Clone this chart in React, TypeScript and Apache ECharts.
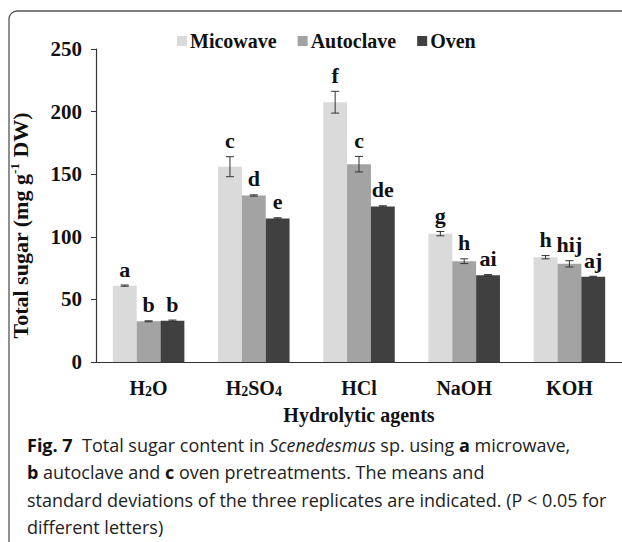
import React, { useEffect, useRef } from "react";
import * as echarts from "echarts";

const categories = ["H2O", "H2SO4", "HCl", "NaOH", "KOH"];
const seriesNames = ["Micowave", "Autoclave", "Oven"];
const microwave = [61, 156, 207.5, 102.5, 83.7];
const autoclave = [32.5, 133, 158, 80.5, 78.4];
const oven = [33, 114.7, 124.3, 69.3, 68];
const microwaveSd = [0.5, 8, 8.7, 1.7, 1.3];
const autoclaveSd = [0.4, 0.5, 6.2, 1.9, 2.5];
const ovenSd = [0.5, 0.5, 0.5, 0.5, 0.5];
const microwaveLetters = ["a", "c", "f", "g", "h"];
const autoclaveLetters = ["b", "d", "c", "h", "hij"];
const ovenLetters = ["b", "e", "de", "ai", "aj"];
const yMin = 0;
const yMax = 250;
const yInterval = 50;
const yName = "Total sugar (mg g";
const yNameSup = "-1";
const yNameEnd = " DW)";
const xName = "Hydrolytic agents";
const captionLines = [
  "{b|Fig. 7}  Total sugar content in {i|Scenedesmus} sp. using {b|a} microwave,",
  "{b|b} autoclave and {b|c} oven pretreatments. The means and",
  "standard deviations of the three replicates are indicated. (P < 0.05 for",
  "different letters)",
];

const colors = ["#dadada", "#a3a3a3", "#404040"];
const SERIF = '"Liberation Serif", "Times New Roman", serif';
const SANS = '"Open Sans", "Noto Sans", sans-serif';

const values = [microwave, autoclave, oven];
const sds = [microwaveSd, autoclaveSd, ovenSd];
const letters = [microwaveLetters, autoclaveLetters, ovenLetters];

function richCat(s: string) {
  return s.replace(/([A-Za-z]+)|(\d+)/g, (m, a, d) => (a ? `{b|${a}}` : `{s|${d}}`));
}

export default function App() {
  const ref = useRef<HTMLDivElement>(null);
  useEffect(() => {
    if (!ref.current) return;
    const chart = echarts.init(ref.current, null, { renderer: "svg" });
    const barSeries = seriesNames.map((name, k) => ({
      name,
      type: "bar",
      data: values[k],
      itemStyle: { color: colors[k] },
      barGap: "0%",
      barCategoryGap: "32%",
    }));
    const errSeries = seriesNames.map((name, k) => ({
      name: "err" + k,
      type: "custom",
      z: 5,
      clip: false,
      data: values[k].map((v, i) => [i, v, sds[k][i]]),
      renderItem: (params: any, api: any) => {
        const ci = api.value(0);
        const v = api.value(1);
        const sd = api.value(2);
        const c = api.coord([ci, v]);
        const catW = api.size([1, 0])[0];
        const bw = (catW * 0.68) / 3;
        const x = c[0] + (k - 1) * bw;
        const yTop = api.coord([ci, v + sd])[1];
        const yBot = api.coord([ci, v - sd])[1];
        const cap = 4;
        const st = { stroke: "#333", lineWidth: 1 };
        return {
          type: "group",
          children: [
            { type: "line", shape: { x1: x, y1: yTop, x2: x, y2: yBot }, style: st },
            { type: "line", shape: { x1: x - cap, y1: yTop, x2: x + cap, y2: yTop }, style: st },
            { type: "line", shape: { x1: x - cap, y1: yBot, x2: x + cap, y2: yBot }, style: st },
            {
              type: "text",
              x,
              y: yTop - 5,
              style: {
                text: letters[k][params.dataIndex],
                fill: "#111",
                fontFamily: SERIF,
                fontWeight: "bold",
                fontSize: 22,
                align: "center",
                verticalAlign: "bottom",
              },
            },
          ],
        };
      },
    }));

    const option: any = {
      animation: false,
      backgroundColor: "#ffffff",
      legend: {
        data: seriesNames,
        left: 172,
        top: 26,
        icon: "rect",
        itemWidth: 10,
        itemHeight: 10,
        itemGap: 21,
        textStyle: { fontFamily: SERIF, fontWeight: "bold", fontSize: 20, color: "#111", padding: [0, 0, 0, -2] },
      },
      grid: { left: 87, right: -5, top: 49, bottom: 542 - 362 },
      xAxis: {
        type: "category",
        data: categories,
        name: xName,
        nameLocation: "middle",
        nameGap: 43,
        nameTextStyle: { fontFamily: SERIF, fontWeight: "bold", fontSize: 20, color: "#111" },
        axisLine: { lineStyle: { color: "#333", width: 1.2 } },
        axisTick: { show: false },
        axisLabel: {
          interval: 0,
          margin: 16,
          formatter: (v: string) => richCat(v),
          rich: {
            b: { fontFamily: SERIF, fontWeight: "bold", fontSize: 20, color: "#111", lineHeight: 20, verticalAlign: "bottom" },
            s: { fontFamily: SERIF, fontWeight: "bold", fontSize: 14, color: "#111", lineHeight: 14, verticalAlign: "bottom" },
          },
        },
      },
      yAxis: {
        type: "value",
        min: yMin,
        max: yMax,
        interval: yInterval,
        name: `{a|${yName}}{s|${yNameSup}}{a|${yNameEnd}}`,
        nameLocation: "middle",
        nameGap: 64,
        nameTextStyle: {
          padding: [0, 40, 0, 0],
          rich: {
            a: { fontFamily: SERIF, fontWeight: "bold", fontSize: 22, color: "#111", lineHeight: 24 },
            s: { fontFamily: SERIF, fontWeight: "bold", fontSize: 13, color: "#111", lineHeight: 13, verticalAlign: "top" },
          },
        },
        splitLine: { show: false },
        axisLine: { show: true, lineStyle: { color: "#333", width: 1.2 } },
        axisTick: { show: true, length: 5, lineStyle: { color: "#333" } },
        axisLabel: { margin: 14, fontFamily: SERIF, fontWeight: "bold", fontSize: 21, color: "#111" },
      },
      graphic: [
        {
          type: "rect",
          z: -1,
          shape: { x: 9, y: 11, width: 800, height: 800, r: 8 },
          style: { fill: "none", stroke: "#555", lineWidth: 1.3 },
          silent: true,
        },
        ...captionLines.map((t, i) => ({
          type: "text",
          x: 27,
          y: 445 + i * 27.4,
          style: {
            text: t,
            fill: "#222",
            fontFamily: SANS,
            fontSize: 18,
            verticalAlign: "middle",
            rich: {
              b: { fontFamily: SANS, fontSize: 18, fontWeight: "bold", fill: "#111" },
              i: { fontFamily: SANS, fontSize: 18, fontStyle: "italic", fill: "#222" },
            },
          },
        })),
      ],
      series: [...barSeries, ...errSeries],
    };
    chart.setOption(option);
    return () => chart.dispose();
  }, []);
  return (
    <div
      ref={ref}
      style={{ position: "fixed", left: 0, top: 0, width: 622, height: 542, background: "#fff" }}
    />
  );
}
